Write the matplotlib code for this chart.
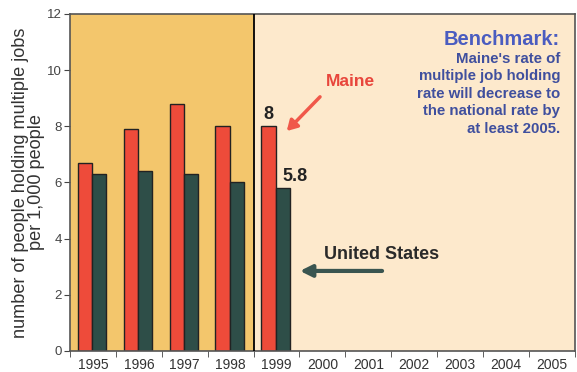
import matplotlib
matplotlib.use("Agg")
import matplotlib.pyplot as plt
import numpy as np

years = ["1995", "1996", "1997", "1998", "1999", "2000", "2001", "2002", "2003", "2004", "2005"]
maine = [6.7, 7.9, 8.8, 8.0, 8.0]
us = [6.3, 6.4, 6.3, 6.0, 5.8]
yticks = [0, 2, 4, 6, 8, 10, 12]

plt.rcParams['font.family'] = ['Liberation Sans', 'DejaVu Sans']

RED = "#EE4B3A"
GREEN = "#2E4E48"
ORANGE = "#F3C66C"
LIGHT = "#FDE9CC"
BLUE = "#3F4F9E"

fig = plt.figure(figsize=(5.77, 3.72), dpi=100)
ax = fig.add_axes([0.1213, 0.0565, 0.875, 0.906])

n = len(years)
ax.set_xlim(-0.5, n - 0.5)
ax.set_ylim(0, 12)
ax.axvspan(-0.5, 3.5, color=ORANGE, zorder=0)
ax.axvspan(3.5, n - 0.5, color=LIGHT, zorder=0)
ax.axvline(3.5, color="black", lw=1.3, zorder=3)

x = np.arange(len(maine))
w = 0.31
ax.bar(x - w / 2 - 0.02, maine, w, color=RED, edgecolor="#222222", lw=1.0, zorder=2)
ax.bar(x + w / 2 - 0.02, us, w, color=GREEN, edgecolor="#222222", lw=1.0, zorder=2)

ax.set_xticks(np.arange(n))
ax.set_xticklabels(years, fontsize=10, color="#333333")
ax.tick_params(axis="x", which="major", length=0, pad=5)
ax.set_xticks(np.arange(-0.5, n), minor=True)
ax.tick_params(axis="x", which="minor", length=4, direction="out", color="#444444")
ax.set_yticks(yticks)
ax.set_yticklabels([str(v) for v in yticks], fontsize=9.5, color="#444444")
ax.tick_params(axis="y", length=4, direction="out", color="#444444", pad=2)

for s in ax.spines.values():
    s.set_color("#555555")
    s.set_linewidth(1.2)

ax.set_ylabel("number of people holding multiple jobs\nper 1,000 people",
              fontsize=13.1, color="#333333", linespacing=0.9)
ax.yaxis.set_label_coords(-0.05, 0.5)

# value labels for 1999
ax.text(4 - w / 2 - 0.02, maine[4] + 0.12, "8", ha="center", va="bottom",
        fontsize=13, fontweight="bold", color="#222222")
ax.text(4 + w / 2 - 0.02, us[4] + 0.12, "5.8", ha="left", va="bottom",
        fontsize=13, fontweight="bold", color="#222222")

# annotations
ax.annotate("", xy=(4.18, 7.76), xytext=(4.99, 9.12),
            arrowprops=dict(arrowstyle="-|>,head_length=0.6,head_width=0.35",
                            color="#F0584A", lw=2.5))
ax.text(5.62, 9.58, "Maine", ha="center", va="center", fontsize=12.5,
        fontweight="bold", color="#E8463C")

ax.annotate("", xy=(4.45, 2.85), xytext=(6.36, 2.85),
            arrowprops=dict(arrowstyle="-|>,head_length=0.7,head_width=0.35",
                            color="#3A5550", lw=3))
ax.text(5.03, 3.42, "United States", ha="left", va="center", fontsize=13,
        fontweight="bold", color="#2A2A2A")

ax.text(10.18, 11.08, "Benchmark:", ha="right", va="center", fontsize=14.5,
        fontweight="bold", color="#4A5CC0")
ax.text(10.18, 10.65, "Maine's rate of\nmultiple job holding\nrate will decrease to\nthe national rate by\nat least 2005.",
        ha="right", va="top", fontsize=10.8, fontweight="bold", color=BLUE,
        linespacing=1.32)

fig.savefig("out.png", dpi=100)
